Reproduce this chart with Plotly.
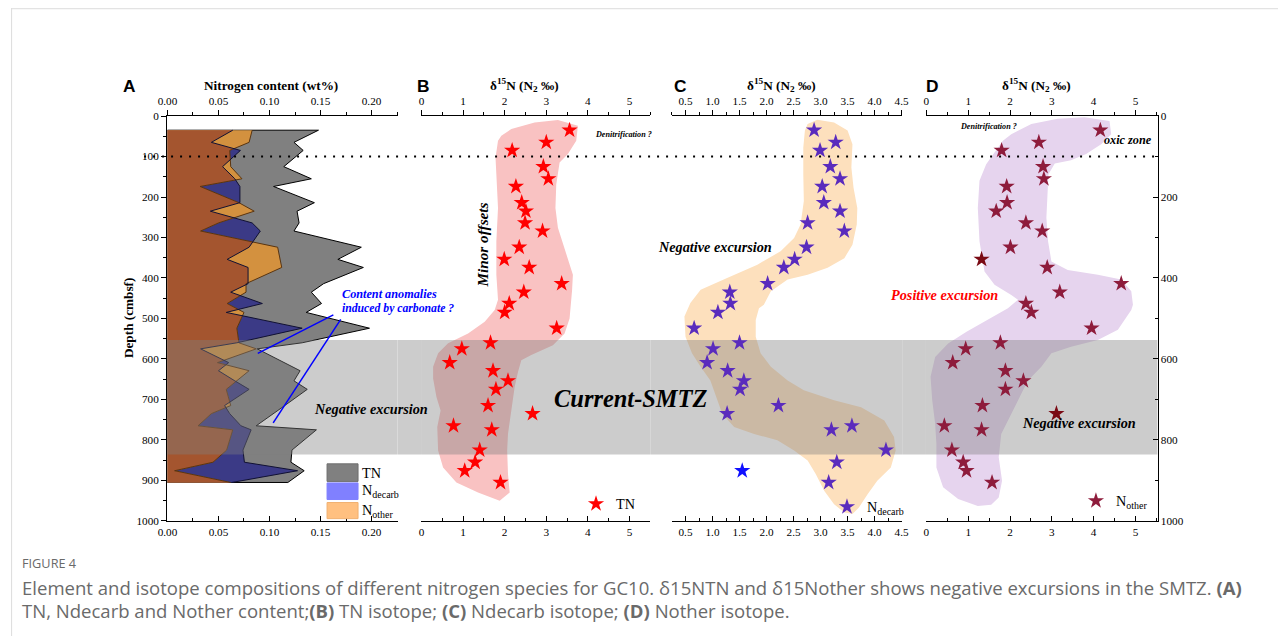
import plotly.graph_objects as go

# The page is shown with an 8px body margin and then fitted into the 1285x642 picture;
# positions below are given in picture pixels and mapped back to figure paper units.
W, H = 1285, 642
OFF = 8
SX, SY = 1285 / 1301, 642 / 658
F = 2 / (SX + SY)          # font scale compensation
SERIF = "Liberation Serif, Times New Roman, serif"
SANS = "Open Sans, Noto Sans, sans-serif"


def px(x):
    return (x / SX - OFF) / W


def py(y):
    return 1 - (y / SY - OFF) / H


def fs(s):
    return round(s * F, 2)


# ---------------- data ----------------
depth = [35, 65, 85, 125, 155, 174, 214, 235, 264, 284, 324, 354, 374, 414, 435, 463,
         485, 524, 560, 575, 609, 629, 654, 675, 715, 735, 765, 775, 825, 855, 876, 905]

tn = [0.148, 0.124, 0.133, 0.114, 0.141, 0.104, 0.144, 0.127, 0.129, 0.124, 0.190, 0.167,
      0.192, 0.153, 0.141, 0.151, 0.136, 0.198, 0.132, 0.088, 0.115, 0.130, 0.124, 0.137,
      0.115, 0.104, 0.087, 0.146, 0.122, 0.121, 0.134, 0.118]
n_decarb = [0.064, 0.043, 0.0715, 0.054, 0.066, 0.071, 0.071, 0.042, 0.083, 0.091, 0.080,
            0.0585, 0.079, 0.079, 0.062, 0.093, 0.0576, 0.132, 0.068, 0.0325, 0.060, 0.050,
            0.066, 0.080, 0.056, 0.061, 0.072, 0.082, 0.074, 0.0754, 0.1275, 0.063]
n_other = [0.083, 0.080, 0.061, 0.062, 0.073, 0.032, 0.070, 0.085, 0.050, 0.0325, 0.108,
           0.110, 0.112, 0.077, 0.077, 0.0585, 0.075, 0.068, 0.070, 0.087, 0.049, 0.080,
           0.068, 0.0576, 0.062, 0.043, 0.030, 0.064, 0.058, 0.0446, 0.007, 0.062]

d15n_tn = [3.56, 3.00, 2.18, 2.93, 3.05, 2.27, 2.41, 2.51, 2.49, 2.91, 2.35, 1.99, 2.59,
           3.37, 2.46, 2.11, 2.00, 3.25, 1.66, 0.97, 0.68, 1.72, 2.08, 1.79, 1.60, 2.67,
           0.77, 1.69, 1.40, 1.29, 1.04, 1.90]
d15n_decarb = [2.88, 3.28, 2.99, 3.18, 3.36, 3.03, 3.06, 3.36, 2.76, 3.44, 2.74, 2.52, 2.32,
               2.02, 1.32, 1.33, 1.10, 0.66, 1.50, 1.01, 0.90, 1.28, 1.58, 1.51, 2.22, 1.27,
               3.58, 3.20, 4.21, 3.30, 1.55, 3.15]
d15n_other = [4.16, 2.69, 1.80, 2.79, 2.81, 1.92, 1.93, 1.67, 2.38, 2.77, 2.01, 1.32, 2.89,
              4.66, 3.19, 2.38, 2.51, 3.95, 1.77, 0.94, 0.63, 1.89, 2.32, 1.89, 1.34, 3.11,
              0.43, 1.32, 0.61, 0.88, 0.96, 1.57]
decarb_outlier_depths = [876]
other_outlier_depths = [354, 735]

# shaded envelopes (x value, depth)
tn_env_x = [1.92, 2.16, 2.72, 3.28, 3.76, 3.72, 3.52, 3.32, 3.24, 3.22, 3.28, 3.44, 3.64, 3.62,
            3.60, 3.56, 3.44, 3.16, 2.64, 2.40, 2.32, 2.24, 2.16, 2.08, 2.06, 2.08, 2.12, 1.88,
            1.36, 0.84, 0.52, 0.40, 0.38, 0.46, 0.36, 0.28, 0.28, 0.40, 0.64, 1.12, 1.52, 1.76,
            1.84, 1.80, 1.80, 1.84, 1.80, 1.78, 1.84]
tn_env_depth = [49, 32, 16, 10, 24, 61, 94, 115, 169, 227, 276, 326, 392, 430,
                454, 500, 537, 566, 590, 603, 632, 669, 727, 785, 826, 884, 930, 950,
                930, 905, 868, 826, 768, 727, 694, 648, 619, 586, 561, 537, 508, 479,
                454, 392, 309, 227, 144, 103, 61]

decarb_env_x = [2.76, 2.94, 3.25, 3.50, 3.59, 3.57, 3.61, 3.68, 3.67, 3.59, 3.44, 3.13, 2.76,
                2.39, 2.08, 1.95, 1.86, 1.80, 1.80, 1.89, 2.08, 2.39, 2.69, 3.25, 3.75, 4.18,
                4.36, 4.39, 4.30, 4.05, 3.87, 3.71, 3.59, 3.44, 3.25, 3.07, 2.91, 2.76, 2.51,
                2.20, 1.77, 1.40, 1.18, 1.09, 0.96, 0.78, 0.62, 0.50, 0.48, 0.59, 0.78, 1.27,
                1.83, 2.26, 2.51, 2.63, 2.69, 2.68, 2.68, 2.71]
decarb_env_depth = [20, 9, 16, 36, 70, 127, 177, 227, 268, 318, 351, 375, 392,
                    404, 433, 466, 475, 504, 545, 586, 619, 653, 677, 702, 719, 752,
                    793, 826, 868, 901, 934, 967, 983, 979, 959, 926, 884, 851, 826,
                    801, 785, 768, 735, 702, 653, 619, 586, 545, 495, 462, 429, 400,
                    367, 334, 301, 268, 210, 144, 78, 36]

other_env_x = [2.03, 2.51, 3.14, 3.78, 4.38, 4.42, 4.18, 3.82, 3.46, 3.07, 2.92, 2.89, 2.87,
               2.91, 2.99, 3.38, 4.10, 4.66, 4.90, 4.94, 4.90, 4.58, 4.10, 3.46, 2.99, 2.75,
               2.43, 2.27, 2.03, 1.79, 1.73, 1.81, 1.73, 1.55, 1.23, 0.76, 0.40, 0.24, 0.24,
               0.21, 0.14, 0.10, 0.21, 0.52, 0.96, 1.47, 1.95, 2.19, 2.03, 1.63, 1.39, 1.27,
               1.23, 1.27, 1.43, 1.63, 1.83]
other_env_depth = [45, 20, 7, 3, 12, 45, 70, 94, 109, 117, 144, 194, 251,
                   309, 359, 380, 392, 404, 433, 466, 479, 528, 553, 570, 586, 619,
                   653, 686, 735, 785, 843, 901, 942, 960, 963, 946, 917, 868, 810,
                   760, 702, 644, 595, 562, 533, 504, 475, 454, 442, 417, 384, 309,
                   227, 160, 119, 90, 61]

smtz_depth = [553, 836]
oxic_depth = 100

# annotation pointer lines in panel A (value, depth)
pointer1 = [(0.1626, 491), (0.0885, 586)]
pointer2 = [(0.1698, 502), (0.1036, 758)]

# axis settings
panels = {
    "A": dict(dom=(166, 396.5), rng=(-0.0004, 0.2255), tick0=0, dtick=0.05, minor=0.025, fmt=".2f"),
    "B": dict(dom=(420, 649.3), rng=(-0.01, 5.5), tick0=0, dtick=1, minor=0.5, fmt="d"),
    "C": dict(dom=(671, 901.2), rng=(0.25, 4.51), tick0=0.5, dtick=0.5, minor=0.25, fmt=".1f"),
    "D": dict(dom=(925, 1156.7), rng=(-0.01, 5.53), tick0=0, dtick=1, minor=0.5, fmt="d"),
}

# ---------------- colors ----------------
C_GRAY = "#808080"
C_NAVY = "#3b3a86"
C_ORANGE = "#d3913f"
C_BROWN = "#a4552f"
C_BAND = "rgba(128,128,128,0.40)"

fig = go.Figure()


def min_profile(d, a, b):
    xs, ys = [], []
    for i in range(len(d)):
        if i > 0:
            da = a[i - 1] - b[i - 1]
            db = a[i] - b[i]
            if da * db < 0:
                t = da / (da - db)
                ys.append(d[i - 1] + t * (d[i] - d[i - 1]))
                xs.append(a[i - 1] + t * (a[i] - a[i - 1]))
        xs.append(min(a[i], b[i]))
        ys.append(d[i])
    return xs, ys


def closed(vals, d):
    return [0] + list(vals) + [0], [d[0]] + list(d) + [d[-1]]


# ---- Panel A ----
x, y = closed(tn, depth)
fig.add_trace(go.Scatter(x=x, y=y, fill="toself", fillcolor=C_GRAY, mode="lines",
                         line=dict(color="black", width=1), xaxis="x", yaxis="y",
                         showlegend=False, hoverinfo="skip"))
x, y = closed(n_decarb, depth)
fig.add_trace(go.Scatter(x=x, y=y, fill="toself", fillcolor=C_NAVY, mode="lines",
                         line=dict(width=0), xaxis="x", yaxis="y", showlegend=False,
                         hoverinfo="skip"))
x, y = closed(n_other, depth)
fig.add_trace(go.Scatter(x=x, y=y, fill="toself", fillcolor=C_ORANGE, mode="lines",
                         line=dict(width=0), xaxis="x", yaxis="y", showlegend=False,
                         hoverinfo="skip"))
mx, my = min_profile(depth, n_decarb, n_other)
x, y = closed(mx, my)
fig.add_trace(go.Scatter(x=x, y=y, fill="toself", fillcolor=C_BROWN, mode="lines",
                         line=dict(width=0), xaxis="x", yaxis="y", showlegend=False,
                         hoverinfo="skip"))
fig.add_trace(go.Scatter(x=n_other, y=depth, mode="lines", line=dict(color="#5a3510", width=1),
                         xaxis="x", yaxis="y", showlegend=False, hoverinfo="skip"))
fig.add_trace(go.Scatter(x=n_decarb, y=depth, mode="lines", line=dict(color="#111133", width=1),
                         xaxis="x", yaxis="y", showlegend=False, hoverinfo="skip"))

axis_ids = {"A": ("x", "x5"), "B": ("x2", "x6"), "C": ("x3", "x7"), "D": ("x4", "x8")}


def band_trace(panel):
    r = panels[panel]["rng"]
    return go.Scatter(x=[r[0], r[1], r[1], r[0], r[0]],
                      y=[smtz_depth[0], smtz_depth[0], smtz_depth[1], smtz_depth[1], smtz_depth[0]],
                      fill="toself", fillcolor=C_BAND, mode="lines", line=dict(width=0),
                      xaxis=axis_ids[panel][0], yaxis="y", showlegend=False, hoverinfo="skip")


fig.add_trace(band_trace("A"))

STAR = fs(12)

# ---- Panel B ----
fig.add_trace(go.Scatter(x=tn_env_x + tn_env_x[:1], y=tn_env_depth + tn_env_depth[:1],
                         fill="toself", fillcolor="#f9c2c2", mode="lines", line=dict(width=0),
                         xaxis="x2", yaxis="y", showlegend=False, hoverinfo="skip"))
fig.add_trace(band_trace("B"))
fig.add_trace(go.Scatter(x=d15n_tn, y=depth, mode="markers", name="TN",
                         marker=dict(symbol="star", size=STAR, color="#ff0000", line=dict(width=0)),
                         xaxis="x2", yaxis="y", legend="legend2"))

# ---- Panel C ----
fig.add_trace(go.Scatter(x=decarb_env_x + decarb_env_x[:1], y=decarb_env_depth + decarb_env_depth[:1],
                         fill="toself", fillcolor="#fde0bd", mode="lines", line=dict(width=0),
                         xaxis="x3", yaxis="y", showlegend=False, hoverinfo="skip"))
fig.add_trace(band_trace("C"))
c_colors = ["#1010ff" if d in decarb_outlier_depths else "#5a2bbd" for d in depth]
fig.add_trace(go.Scatter(x=d15n_decarb, y=depth, mode="markers", name="N<sub>decarb</sub>",
                         marker=dict(symbol="star", size=STAR, color=c_colors, line=dict(width=0)),
                         xaxis="x3", yaxis="y", legend="legend3"))

# ---- Panel D ----
fig.add_trace(go.Scatter(x=other_env_x + other_env_x[:1], y=other_env_depth + other_env_depth[:1],
                         fill="toself", fillcolor="#e6d4ee", mode="lines", line=dict(width=0),
                         xaxis="x4", yaxis="y", showlegend=False, hoverinfo="skip"))
fig.add_trace(band_trace("D"))
d_colors = ["#7a0a14" if d in other_outlier_depths else "#8e1c3c" for d in depth]
fig.add_trace(go.Scatter(x=d15n_other, y=depth, mode="markers", name="N<sub>other</sub>",
                         marker=dict(symbol="star", size=STAR, color=d_colors, line=dict(width=0)),
                         xaxis="x4", yaxis="y", legend="legend4"))

# dummy traces for mirrored axes
for top in ["x5", "x6", "x7", "x8"]:
    fig.add_trace(go.Scatter(x=[None], y=[None], xaxis=top, yaxis="y", showlegend=False,
                             hoverinfo="skip"))
fig.add_trace(go.Scatter(x=[None], y=[None], xaxis="x4", yaxis="y2", showlegend=False,
                         hoverinfo="skip"))

# ---------------- axes ----------------
tickfont = dict(family=SERIF, size=fs(11), color="black")


def xaxis_cfg(panel, side, overlay=None):
    p = panels[panel]
    cfg = dict(domain=[px(p["dom"][0]), px(p["dom"][1])], range=list(p["rng"]),
               tickmode="linear", tick0=p["tick0"], dtick=p["dtick"], tickformat=p["fmt"],
               showgrid=False, zeroline=False, showline=True, linecolor="black", linewidth=1,
               ticks="outside" if side == "top" else "inside", ticklen=5, tickcolor="black",
               tickwidth=1, tickfont=tickfont, side=side, anchor="y", fixedrange=True,
               minor=dict(dtick=p["minor"], tick0=p["tick0"], ticks="outside" if side == "top" else "inside",
                          ticklen=3, tickcolor="black", showgrid=False))
    if overlay:
        cfg["overlaying"] = overlay
    return cfg


layout_axes = {}
for panel, (bot, top) in axis_ids.items():
    bname = "xaxis" if bot == "x" else "xaxis" + bot[1:]
    tname = "xaxis" + top[1:]
    layout_axes[bname] = xaxis_cfg(panel, "bottom")
    layout_axes[tname] = xaxis_cfg(panel, "top", overlay=bot)

ydom = [py(520), py(117)]
layout_axes["yaxis"] = dict(domain=ydom, range=[1000.5, -0.5], tickmode="linear", tick0=0, dtick=100,
                            showgrid=False, zeroline=False, showline=True, linecolor="black",
                            linewidth=1, ticks="outside", ticklen=5, tickcolor="black",
                            tickfont=tickfont, anchor="x", side="left", fixedrange=True,
                            minor=dict(dtick=50, tick0=0, ticks="outside", ticklen=3,
                                       tickcolor="black", showgrid=False))
layout_axes["yaxis2"] = dict(domain=ydom, range=[1000.5, -0.5], tickmode="linear", tick0=0, dtick=200,
                             showgrid=False, zeroline=False, showline=True, linecolor="black",
                             linewidth=1, ticks="inside", ticklen=5, tickcolor="black",
                             tickfont=tickfont, anchor="x4", side="right", overlaying="y",
                             fixedrange=True,
                             minor=dict(dtick=100, tick0=0, ticks="inside", ticklen=3,
                                        tickcolor="black", showgrid=False))

# ---------------- shapes ----------------
shapes = []
# frame
shapes.append(dict(type="line", xref="paper", yref="paper", x0=px(10), x1=1, y0=py(10.5),
                   y1=py(10.5), line=dict(color="#dcdcdc", width=1)))
shapes.append(dict(type="line", xref="paper", yref="paper", x0=px(10.5), x1=px(10.5), y0=py(10),
                   y1=0, line=dict(color="#dcdcdc", width=1)))
# SMTZ band in the gaps between panels
order = ["A", "B", "C", "D"]
for a, b in zip(order[:-1], order[1:]):
    shapes.append(dict(type="rect", xref="paper", yref="y", x0=px(panels[a]["dom"][1]),
                       x1=px(panels[b]["dom"][0]), y0=smtz_depth[0], y1=smtz_depth[1],
                       fillcolor=C_BAND, line=dict(width=0), layer="below"))
# oxic boundary dotted line
shapes.append(dict(type="line", xref="paper", yref="y", x0=px(143), x1=px(1157), y0=oxic_depth,
                   y1=oxic_depth, line=dict(color="black", width=2, dash="2px,7px"), layer="above"))
# pointer lines
for p in (pointer1, pointer2):
    shapes.append(dict(type="line", xref="x", yref="y", x0=p[0][0], y0=p[0][1], x1=p[1][0],
                       y1=p[1][1], line=dict(color="#0000ff", width=1.5)))
# legend swatches for panel A
swatches = [("#808080", "#6e6e6e", 463, 480.5), ("#8080ff", "#8080ff", 482, 498.5),
            ("#ffc080", "#f0b070", 501.5, 517.5)]
for fc, lc, y0, y1 in swatches:
    shapes.append(dict(type="rect", xref="paper", yref="paper", x0=px(326), x1=px(357),
                       y0=py(y1), y1=py(y0), fillcolor=fc, line=dict(color=lc, width=1)))

# ---------------- annotations ----------------
anns = []


def ann(text, x, y, size=13, color="black", family=SERIF, angle=0, xanchor="center",
        yanchor="middle"):
    anns.append(dict(text=text, x=px(x), y=py(y), xref="paper", yref="paper", showarrow=False,
                     font=dict(family=family, size=fs(size), color=color), textangle=angle,
                     xanchor=xanchor, yanchor=yanchor))


for lab, xx in [("A", 128), ("B", 422), ("C", 680), ("D", 932)]:
    ann("<b>%s</b>" % lab, xx, 87, size=17, family="Liberation Sans, Arial, sans-serif")
ann("<b>Nitrogen content (wt%)</b>", 270, 87, size=13)
for xx in (523, 781, 1036):
    ann("<b>δ<sup>15</sup>N (N<sub>2</sub> ‰)</b>", xx, 86, size=13)
ann("<b>Depth (cmbsf)</b>", 128, 318, size=13, angle=-90)
ann("<b><i>Denitrification ?</i></b>", 622, 136, size=8)
ann("<b><i>Denitrification ?</i></b>", 988, 128, size=8)
ann("<b><i>oxic zone</i></b>", 1127, 141, size=12)
ann("<b><i>Minor offsets</i></b>", 482, 246, size=15, angle=-90)
ann("<b><i>Negative excursion</i></b>", 714, 247, size=14)
ann("<b><i>Positive excursion</i></b>", 944, 295, size=14, color="#ff0000")
ann("<b><i>Content anomalies</i></b>", 339, 294, size=12, color="#0000ff", xanchor="left")
ann("<b><i>induced by carbonate ?</i></b>", 339, 309, size=11.5, color="#0000ff", xanchor="left")
ann("<b><i>Negative excursion</i></b>", 370, 408, size=14)
ann("<b><i>Current-SMTZ</i></b>", 630, 398, size=24)
ann("<b><i>Negative excursion</i></b>", 1078, 422, size=14)
ann("TN", 359, 472, size=14, xanchor="left")
ann("N<sub>decarb</sub>", 359, 490, size=14, xanchor="left")
ann("N<sub>other</sub>", 359, 510, size=14, xanchor="left")

CAP = "#6a6a6a"
ann("FIGURE 4", 19, 562, size=12.5, color=CAP, family=SANS, xanchor="left")
ann("Element and isotope compositions of different nitrogen species for GC10. δ15NTN and "
    "δ15Nother shows negative excursions in the SMTZ. <b>(A)</b>", 19, 586, size=18.2, color=CAP,
    family=SANS, xanchor="left")
ann("TN, Ndecarb and Nother content;<b>(B)</b> TN isotope; <b>(C)</b> Ndecarb isotope; "
    "<b>(D)</b> Nother isotope.", 19, 609, size=18.2, color=CAP, family=SANS, xanchor="left")


def legend_cfg(x, y):
    return dict(x=px(x), y=py(y), xanchor="left", yanchor="middle", bgcolor="rgba(0,0,0,0)",
                borderwidth=0, font=dict(family=SERIF, size=fs(14), color="black"), itemwidth=30)


fig.update_layout(
    width=W, height=H, margin=dict(l=0, r=0, t=0, b=0), autosize=False,
    paper_bgcolor="white", plot_bgcolor="white",
    shapes=shapes, annotations=anns,
    legend2=legend_cfg(575, 503),
    legend3=legend_cfg(826, 506),
    legend4=legend_cfg(1075, 500),
    **layout_axes,
)

fig.write_html("out.html")
